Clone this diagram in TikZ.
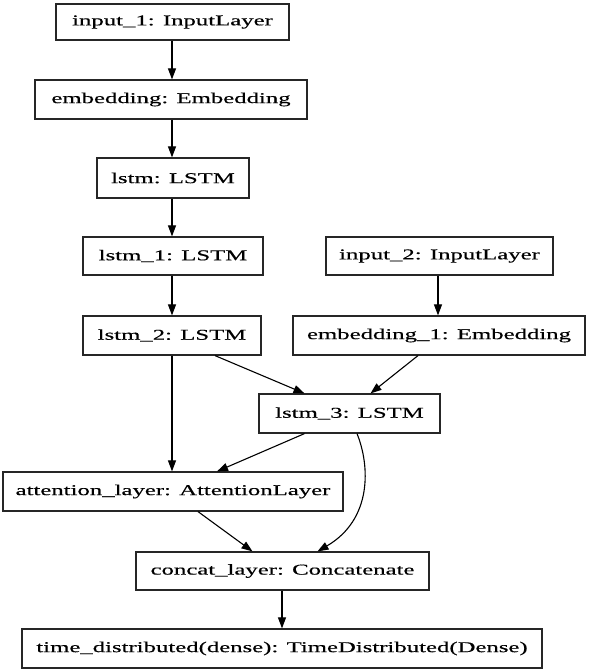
\documentclass[tikz,border=0pt]{standalone}
\usepackage{fontspec}
\newfontfamily\lblfont[FakeStretch=1.65,FakeBold=0.4]{Liberation Serif}
\usetikzlibrary{arrows.meta}
\begin{document}
\begin{tikzpicture}[x=1pt,y=-1pt,
  layer/.style={draw=black!85, line width=1.2pt, inner sep=0pt, fill=white,
    font=\lblfont\fontsize{15}{18}\selectfont, anchor=center},
  edge/.style={line width=1.1pt, -{Triangle[length=11pt,width=8pt]}}]
\useasboundingbox (0,0) rectangle (592,670);
\fill[white] (0,0) rectangle (592,670);
\node[layer, minimum width=233pt, minimum height=36pt] (in1) at (172.5,22) {input\_1: InputLayer};
\node[layer, minimum width=272pt, minimum height=39pt] (emb) at (171,99.5) {embedding: Embedding};
\node[layer, minimum width=152pt, minimum height=40pt] (lstm) at (173,178) {lstm: LSTM};
\node[layer, minimum width=180pt, minimum height=38pt] (lstm1) at (173,256) {lstm\_1: LSTM};
\node[layer, minimum width=227pt, minimum height=38pt] (in2) at (439.5,256) {input\_2: InputLayer};
\node[layer, minimum width=178pt, minimum height=39pt] (lstm2) at (172,335.5) {lstm\_2: LSTM};
\node[layer, minimum width=292pt, minimum height=39pt] (emb1) at (439,335.5) {embedding\_1: Embedding};
\node[layer, minimum width=181pt, minimum height=39pt] (lstm3) at (349.5,413.5) {lstm\_3: LSTM};
\node[layer, minimum width=340pt, minimum height=39pt] (att) at (173,491.5) {attention\_layer: AttentionLayer};
\node[layer, minimum width=293pt, minimum height=38pt] (concat) at (282.5,571) {concat\_layer: Concatenate};
\node[layer, minimum width=520pt, minimum height=39pt] (td) at (282,648.5) {time\_distributed(dense): TimeDistributed(Dense)};

\draw[edge] ([xshift=-0.5pt]in1.south) -- ([xshift=-0.5pt]in1.south |- emb.north);
\draw[edge] ([xshift=1pt]emb.south) -- ([xshift=1pt]emb.south |- lstm.north);
\draw[edge] ([xshift=-1pt]lstm.south) -- ([xshift=-1pt]lstm.south |- lstm1.north);
\draw[edge] ([xshift=-1pt]lstm1.south) -- ([xshift=-1pt]lstm1.south |- lstm2.north);
\draw[edge] ([xshift=-1.5pt]in2.south) -- ([xshift=-1.5pt]in2.south |- emb1.north);
\draw[edge] (lstm2.south) -- (lstm2.south |- att.north);
\draw[edge] ([xshift=43pt]lstm2.south) -- ([xshift=-45pt]lstm3.north);
\draw[edge] ([xshift=-21pt]emb1.south) -- ([xshift=21pt]lstm3.north);
\draw[edge] ([xshift=-45pt]lstm3.south) -- ([xshift=44pt]att.north);
\draw[edge] ([xshift=7.5pt]lstm3.south) .. controls +(13,32) and +(55,-32) .. ([xshift=35pt]concat.north);
\draw[edge] ([xshift=25pt]att.south) -- ([xshift=-30pt]concat.north);
\draw[edge] ([xshift=-0.5pt]concat.south) -- ([xshift=-0.5pt]concat.south |- td.north);
\end{tikzpicture}
\end{document}
